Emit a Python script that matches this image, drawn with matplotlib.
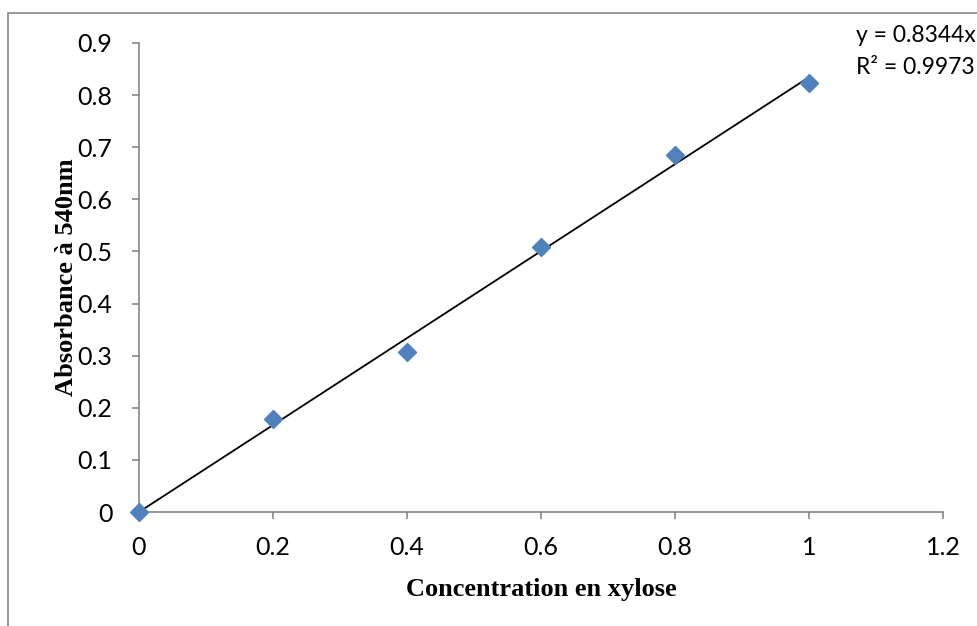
import matplotlib
matplotlib.use("Agg")
import matplotlib.pyplot as plt
from matplotlib.patches import Rectangle

# données de l'étalonnage
concentration = [0, 0.2, 0.4, 0.6, 0.8, 1.0]
absorbance = [0.0, 0.178, 0.307, 0.509, 0.685, 0.824]
pente = 0.8344
r2 = 0.9973
x_ticks = [0, 0.2, 0.4, 0.6, 0.8, 1, 1.2]
y_ticks = [0, 0.1, 0.2, 0.3, 0.4, 0.5, 0.6, 0.7, 0.8, 0.9]

W, H = 977, 626
fig = plt.figure(figsize=(W / 100, H / 100), dpi=100)
ax = fig.add_axes([139 / W, (H - 512) / H, (943 - 139) / W, (512 - 43) / H])

# cadre extérieur
fig.patches.append(Rectangle((8 / W, -0.1), 1.1, (H - 13) / H + 0.1,
                             transform=fig.transFigure, fill=False,
                             edgecolor="#868686", linewidth=1.2, clip_on=False))

# droite de tendance
x_fit = [0, 1]
ax.plot(x_fit, [pente * v for v in x_fit], color="black", linewidth=1.3, zorder=2)
ax.plot(concentration, absorbance, linestyle="none", marker="D", markersize=9.5,
        color="#4F81BD", markeredgecolor="#4F81BD", clip_on=False, zorder=3)

ax.set_xlim(0, 1.2)
ax.set_ylim(0, 0.9)
ax.set_xticks(x_ticks)
ax.set_xticklabels(["0", "0.2", "0.4", "0.6", "0.8", "1", "1.2"])
ax.set_yticks(y_ticks)
ax.set_yticklabels(["0", "0.1", "0.2", "0.3", "0.4", "0.5", "0.6", "0.7", "0.8", "0.9"])

for s in ["top", "right"]:
    ax.spines[s].set_visible(False)
for s in ["left", "bottom"]:
    ax.spines[s].set_color("#868686")
    ax.spines[s].set_linewidth(1.2)
ax.tick_params(axis="both", colors="#868686", length=5, width=1.2, direction="out",
               labelcolor="black", labelsize=18)
ax.tick_params(axis="x", pad=12)
ax.tick_params(axis="y", pad=14)
for lbl in ax.get_xticklabels() + ax.get_yticklabels():
    lbl.set_family("Lato")

ax.set_xlabel("Concentration en xylose", family="Liberation Serif", fontweight="bold",
              fontsize=19, labelpad=14)
ax.set_ylabel("Absorbance à 540nm", family="Liberation Serif", fontweight="bold",
              fontsize=19, labelpad=0)

fig.text(856 / W, (H - 36) / H, f"y = {pente}x", family="Lato", fontsize=16.5,
         va="center", ha="left")
fig.text(856 / W, (H - 68) / H, f"R² = {r2}", family="Lato", fontsize=16.5,
         va="center", ha="left")

fig.savefig("out.png", dpi=100)
